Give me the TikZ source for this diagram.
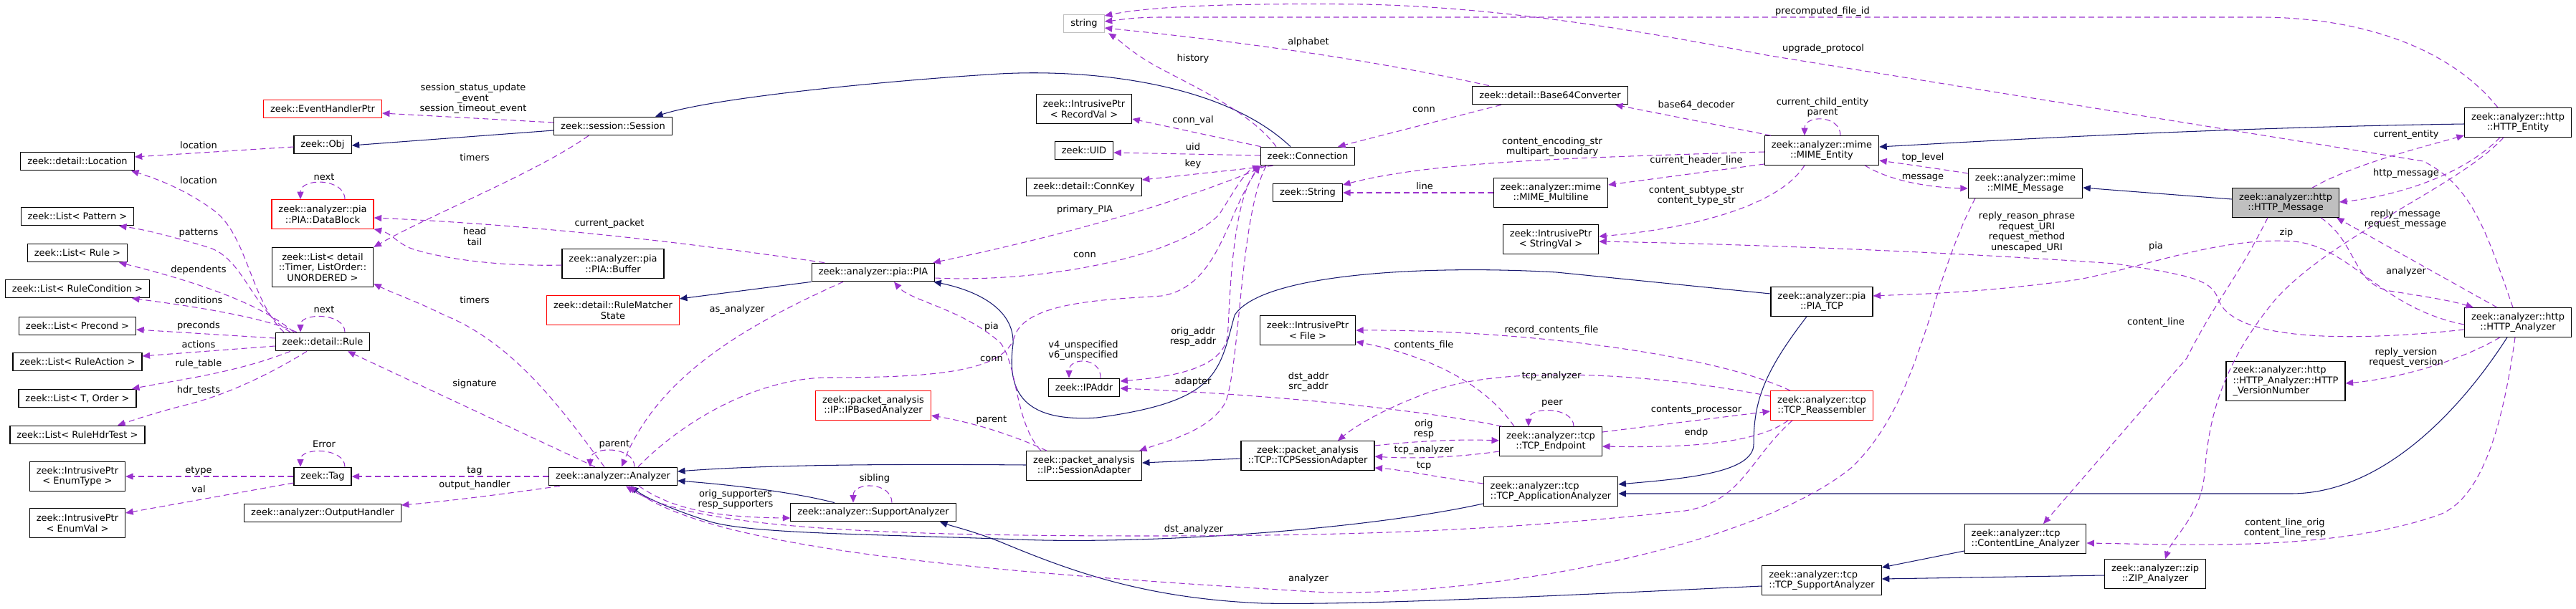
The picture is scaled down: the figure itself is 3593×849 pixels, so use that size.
\documentclass[tikz,border=0pt]{standalone}
\usepackage{fontspec}
\setmainfont{DejaVu Sans}
\usetikzlibrary{arrows.meta}
\definecolor{dorchid}{HTML}{9A32CD}
\definecolor{mblue}{HTML}{191970}
\definecolor{boxgray}{HTML}{BFBFBF}
\newcommand{\gfont}{\fontsize{13pt}{14.5pt}\selectfont}
\begin{document}
\begin{tikzpicture}[x=1pt, y=-1pt, every node/.style={font=\gfont},
  cls/.style={draw=black, line width=1.2pt, fill=white, align=center, inner xsep=9.5pt, inner ysep=2pt, minimum height=25.5pt},
  two/.style={minimum height=40.5pt},
  three/.style={minimum height=55pt},
  trunc/.style={draw=red},
  lbl/.style={align=center, inner sep=0pt},
  uses/.style={draw=dorchid, line width=1.05pt, dash pattern=on 8pt off 5pt, -{Triangle[length=10.5pt,width=9pt]}},
  isa/.style={draw=mblue, line width=1.05pt, -{Triangle[length=10.5pt,width=9pt]}}]
\useasboundingbox (0,0) rectangle (3593,849);
% column 1
\node[cls] (loc) at (108,225) {zeek::detail::Location};
\node[cls] (lpat) at (108,302) {zeek::List< Pattern >};
\node[cls] (lrule) at (108,353) {zeek::List< Rule >};
\node[cls] (lcond) at (108,403) {zeek::List< RuleCondition >};
\node[cls] (lprec) at (108,455) {zeek::List< Precond >};
\node[cls] (lact) at (108,505) {zeek::List< RuleAction >};
\node[cls] (lto) at (108,556) {zeek::List< T, Order >};
\node[cls] (lhdr) at (108,607) {zeek::List< RuleHdrTest >};
\node[cls, two] (etype) at (108,665) {zeek::IntrusivePtr\\< EnumType >};
\node[cls, two] (eval) at (108,730) {zeek::IntrusivePtr\\< EnumVal >};
% column 2
\node[cls, trunc] (ehp) at (450,152) {zeek::EventHandlerPtr};
\node[cls] (obj) at (450,202) {zeek::Obj};
\node[cls, two, trunc] (dblk) at (450,299) {zeek::analyzer::pia\\::PIA::DataBlock};
\node[cls, three] (ltimer) at (450,373) {zeek::List< detail\\::Timer, ListOrder::\\UNORDERED >};
\node[cls] (rule) at (450,477) {zeek::detail::Rule};
\node[cls] (tag) at (450,665) {zeek::Tag};
\node[cls] (outh) at (450,716) {zeek::analyzer::OutputHandler};
% column 3
\node[cls] (sess) at (855,176) {zeek::session::Session};
\node[cls, two] (pbuf) at (855,368) {zeek::analyzer::pia\\::PIA::Buffer};
\node[cls, two, trunc] (rms) at (855,433) {zeek::detail::RuleMatcher\\State};
\node[cls] (ana) at (855,665) {zeek::analyzer::Analyzer};
% column 4
\node[cls] (pia) at (1218,380) {zeek::analyzer::pia::PIA};
\node[cls, two, trunc] (ipba) at (1218,566) {zeek::packet\_analysis\\::IP::IPBasedAnalyzer};
\node[cls] (supa) at (1218,715) {zeek::analyzer::SupportAnalyzer};
% column 5
\node[cls, draw=boxgray] (str) at (1512,33) {string};
\node[cls, two] (recv) at (1512,152) {zeek::IntrusivePtr\\< RecordVal >};
\node[cls] (uid) at (1512,210) {zeek::UID};
\node[cls] (ckey) at (1512,261) {zeek::detail::ConnKey};
\node[cls] (ipa) at (1512,541) {zeek::IPAddr};
\node[cls, two] (sada) at (1512,650) {zeek::packet\_analysis\\::IP::SessionAdapter};
% column 6
\node[cls] (conn) at (1824,218) {zeek::Connection};
\node[cls] (zstr) at (1824,269) {zeek::String};
\node[cls, two] (file) at (1824,461) {zeek::IntrusivePtr\\< File >};
\node[cls, two] (tcpsa) at (1824,636) {zeek::packet\_analysis\\::TCP::TCPSessionAdapter};
% column 7
\node[cls] (b64) at (2162,133) {zeek::detail::Base64Converter};
\node[cls, two] (mml) at (2163,269) {zeek::analyzer::mime\\::MIME\_Multiline};
\node[cls, two] (sval) at (2163,334) {zeek::IntrusivePtr\\< StringVal >};
\node[cls, two] (endp) at (2163,616) {zeek::analyzer::tcp\\::TCP\_Endpoint};
\node[cls, two, align=left] (tcpaa) at (2163,686) {zeek::analyzer::tcp\\::TCP\_ApplicationAnalyzer};
% column 8
\node[cls, two] (ment) at (2541,210) {zeek::analyzer::mime\\::MIME\_Entity};
\node[cls, two] (pitcp) at (2541,421) {zeek::analyzer::pia\\::PIA\_TCP};
\node[cls, two, trunc] (reas) at (2541,566) {zeek::analyzer::tcp\\::TCP\_Reassembler};
\node[cls, two, align=left] (tcpsup) at (2541,810) {zeek::analyzer::tcp\\::TCP\_SupportAnalyzer};
% column 9
\node[cls, two] (mmsg) at (2825,256) {zeek::analyzer::mime\\::MIME\_Message};
\node[cls, two, align=left] (cla) at (2825,752) {zeek::analyzer::tcp\\::ContentLine\_Analyzer};
\node[cls, two] (zip) at (3006,801) {zeek::analyzer::zip\\::ZIP\_Analyzer};
\node[cls, two, fill=boxgray] (hmsg) at (3188,283) {zeek::analyzer::http\\::HTTP\_Message};
\node[cls, three, align=left] (hver) at (3188,532) {zeek::analyzer::http\\::HTTP\_Analyzer::HTTP\\\_VersionNumber};
\node[cls, two] (hent) at (3512,171) {zeek::analyzer::http\\::HTTP\_Entity};
\node[cls, two] (hana) at (3512,450) {zeek::analyzer::http\\::HTTP\_Analyzer};

% inheritance
\draw[isa] ([yshift=-6pt]sess.west) -- ([yshift=-1pt]obj.east);
\draw[isa] ([xshift=-24pt]conn.north) .. controls (1700,110) and (1500,95) .. (1379,104) .. controls (1250,112) and (1000,135) .. ([xshift=59pt]sess.north);
\draw[isa] (pia.south west) -- ([yshift=16pt]rms.east);
\draw[isa] ([yshift=11pt]pitcp.west) -- (2171,380) .. controls (2000,370) and (1760,380) .. (1722,440) .. controls (1700,520) and (1700,560) .. (1530,583) .. controls (1420,590) and (1405,540) .. (1413,480) .. controls (1415,430) and (1360,405) .. ([xshift=-2pt]pia.south east);
\draw[isa] ([yshift=1pt]sada.west) .. controls (1200,647) and (1050,650) .. ([yshift=7pt]ana.east);
\draw[isa] ([xshift=-54pt]supa.north) .. controls (1100,685) and (1000,675) .. ([yshift=-6pt]ana.east);
\draw[isa] ([yshift=-4pt]tcpsa.west) -- ([yshift=4pt]sada.east);
\draw[isa] ([yshift=-17pt]tcpaa.west) .. controls (1900,740) and (1600,760) .. (1420,753) .. controls (1200,745) and (1050,745) .. (990,728) .. controls (940,712) and (900,695) .. ([xshift=25pt]ana.south);
\draw[isa] ([yshift=-8pt]tcpsup.west) .. controls (2200,830) and (1900,845) .. (1760,842) .. controls (1600,835) and (1500,800) .. (1397,757) .. controls (1360,742) and (1330,735) .. ([xshift=93pt]supa.south);
\draw[isa] ([xshift=-15pt]hana.south) .. controls (3440,560) and (3330,689) .. (3195,689) -- ([yshift=-3pt]tcpaa.east);
\draw[isa] ([xshift=-21pt]pitcp.south) .. controls (2460,520) and (2446,560) .. (2446,620) .. controls (2446,660) and (2350,668) .. ([yshift=10pt]tcpaa.east);
\draw[isa] ([yshift=-17pt]cla.west) -- ([yshift=18pt]tcpsup.east);
\draw[isa] ([yshift=-2pt]zip.west) -- ([yshift=2pt]tcpsup.east);
\draw[isa] ([yshift=5pt]hmsg.west) -- ([yshift=-6pt]mmsg.east);
\draw[isa] ([yshift=-2pt]hent.west) .. controls (3100,178) and (2800,195) .. ([yshift=5pt]ment.east);

% usage: rules and tags
\draw[uses] ([yshift=5pt]sess.west) -- ([yshift=-6pt]ehp.east);
\draw[uses] ([yshift=-3pt]obj.west) -- ([yshift=6pt]loc.east);
\draw[uses] ([xshift=-54pt]rule.north) .. controls (350,420) and (345,330) .. (300,295) .. controls (260,265) and (220,250) .. ([xshift=75pt]loc.south);
\draw[uses] ([xshift=31pt]dblk.north) .. controls (481,248) and (419,248) .. ([xshift=-31pt]dblk.north);
\draw[uses] ([xshift=-68pt]pia.north) .. controls (900,330) and (700,312) .. ([yshift=-5pt]dblk.east);
\draw[uses] ([yshift=-2pt]pbuf.west) .. controls (700,372) and (620,362) .. (574,347) .. controls (555,340) and (545,325) .. (dblk.south east);
\draw[uses] ([xshift=-34pt]sess.south) .. controls (750,240) and (600,300) .. (ltimer.north east);
\draw[uses] ([xshift=-12pt]ana.north) .. controls (790,580) and (720,480) .. (620,440) .. controls (580,420) and (550,410) .. ([yshift=-23pt]ltimer.east);
\draw[uses] ([xshift=31pt]rule.north) .. controls (481,436) and (419,436) .. ([xshift=-31pt]rule.north);
\draw[uses] ([xshift=-45pt]rule.north) .. controls (350,430) and (340,360) .. (290,345) .. controls (240,330) and (200,320) .. ([xshift=58pt]lpat.south);
\draw[uses] ([xshift=-40pt]rule.north) .. controls (370,430) and (300,400) .. ([xshift=58pt]lrule.south);
\draw[uses] ([xshift=-36pt]rule.north) .. controls (360,440) and (250,425) .. ([xshift=76pt]lcond.south);
\draw[uses] ([yshift=5pt]rule.west) -- ([yshift=-5pt]lprec.east);
\draw[uses] ([yshift=-6pt]rule.west) -- ([yshift=8pt]lact.east);
\draw[uses] ([xshift=-45pt]rule.south) .. controls (330,520) and (250,530) .. ([xshift=76pt]lto.north);
\draw[uses] ([xshift=-22pt]rule.south) .. controls (380,520) and (320,550) .. (260,565) .. controls (220,575) and (190,585) .. ([xshift=56pt]lhdr.north);
\draw[uses] ([xshift=-25pt]ana.north) -- ([xshift=35pt]rule.south);
\draw[uses] ([xshift=31pt]tag.north) .. controls (481,624) and (419,624) .. ([xshift=-31pt]tag.north);
\draw[uses] (tag.west) -- (etype.east);
\draw[uses] ([yshift=-9pt]tag.west) -- ([yshift=14pt]eval.east);
\draw[uses] (ana.west) -- (tag.east);
\draw[uses] ([xshift=-74pt]ana.south) .. controls (700,690) and (620,700) .. ([yshift=11pt]outh.east);
\draw[uses] ([xshift=30pt]ana.north) .. controls (885,622) and (823,622) .. ([xshift=-32pt]ana.north);

% usage: pia, connection, session adapters
\draw[uses] ([xshift=-42pt]pia.south) .. controls (1050,450) and (920,520) .. ([xshift=12pt]ana.north);
\draw[uses] ([xshift=35pt]ana.north) .. controls (950,590) and (1050,530) .. (1150,527) .. controls (1300,527) and (1400,520) .. (1415,470) .. controls (1430,420) and (1550,418) .. (1620,413) .. controls (1700,400) and (1710,300) .. (conn.south west);
\draw[uses] ([yshift=-8pt]pia.east) .. controls (1450,395) and (1640,360) .. (1700,300) .. controls (1720,270) and (1735,240) .. (conn.south west);
\draw[uses] ([xshift=-58pt]conn.south) .. controls (1700,260) and (1550,315) .. ([xshift=-3pt]pia.north east);
\draw[uses] ([xshift=-44pt]conn.north) .. controls (1740,150) and (1640,110) .. (1600,85) .. controls (1575,70) and (1560,55) .. ([xshift=34pt]str.south);
\draw[uses] ([xshift=1pt]conn.north west) -- ([yshift=-14pt]recv.east);
\draw[uses] ([yshift=1pt]conn.west) -- ([yshift=-3pt]uid.east);
\draw[uses] ([xshift=18pt]conn.south west) -- ([yshift=10pt]ckey.east);
\draw[uses] ([xshift=-64pt]conn.south) .. controls (1715,260) and (1715,450) .. (1712,470) .. controls (1705,510) and (1650,525) .. ([yshift=9pt]ipa.east);
\draw[uses] ([xshift=-58pt]conn.south) .. controls (1730,300) and (1730,500) .. (1710,560) .. controls (1690,600) and (1630,615) .. ([xshift=77pt]sada.north);
\draw[uses] ([xshift=4pt]endp.north west) .. controls (2000,575) and (1800,552) .. ([yshift=-1pt]ipa.east);
\draw[uses] ([xshift=23pt]ipa.north) .. controls (1536,498) and (1491,498) .. ([xshift=-21pt]ipa.north);
\draw[uses] ([xshift=-60pt]sada.north) .. controls (1415,590) and (1420,510) .. (1395,478) .. controls (1340,430) and (1270,420) .. ([xshift=29pt]pia.south);
\draw[uses] ([xshift=-52pt]sada.north) .. controls (1420,610) and (1360,590) .. ([yshift=-14pt]ipba.east);
\draw[uses] ([xshift=26pt]supa.north) .. controls (1244,672) and (1190,672) .. ([xshift=-28pt]supa.north);
\draw[uses] ([xshift=36pt]ana.south) .. controls (930,705) and (980,722) .. ([yshift=-8pt]supa.west);
\draw[uses] ([xshift=-41pt]reas.south) .. controls (2440,640) and (2430,700) .. (2350,713) .. controls (2100,740) and (1900,748) .. (1600,748) .. controls (1200,748) and (960,735) .. ([xshift=18pt]ana.south);
\draw[uses] ([xshift=-70pt]mmsg.south) .. controls (2690,400) and (2680,560) .. (2582,653) .. controls (2450,760) and (2100,830) .. (1850,827) .. controls (1400,800) and (1000,770) .. ([xshift=22pt]ana.south);

% usage: tcp
\draw[uses] ([xshift=-44pt]reas.north) .. controls (2380,490) and (2100,460) .. (file.east);
\draw[uses] ([xshift=-51pt]endp.north) .. controls (2060,520) and (1960,490) .. ([yshift=-16pt]file.east);
\draw[uses] ([yshift=13pt]reas.west) .. controls (2300,520) and (2100,510) .. (2000,545) .. controls (1930,570) and (1890,595) .. ([xshift=42pt]tcpsa.north);
\draw[uses] ([xshift=32pt]endp.north) .. controls (2195,567) and (2132,567) .. ([xshift=-31pt]endp.north);
\draw[uses] ([yshift=13pt]endp.east) -- ([yshift=-8pt]reas.west);
\draw[uses] ([xshift=-47pt]reas.south) .. controls (2450,620) and (2350,625) .. ([yshift=-7pt]endp.east);
\draw[uses] ([yshift=14pt]tcpsa.east) .. controls (1980,615) and (2040,613) .. ([yshift=1pt]endp.west);
\draw[uses] ([yshift=-14pt]endp.west) .. controls (2020,640) and (1960,640) .. ([yshift=-1pt]tcpsa.east);
\draw[uses] ([yshift=11pt]tcpaa.west) .. controls (2000,665) and (1950,655) .. ([yshift=-17pt]tcpsa.east);

% usage: strings and mime
\draw[uses] ([xshift=-85pt]b64.north) .. controls (1900,80) and (1700,55) .. ([yshift=-6pt]str.east);
\draw[uses] ([xshift=-28pt]hent.north) .. controls (3420,70) and (3300,24) .. (3150,24) -- (1620,24) .. controls (1580,24) and (1560,28) .. ([yshift=3pt]str.east);
\draw[uses] ([xshift=-7pt]hana.north) .. controls (3470,330) and (3450,260) .. (3380,225) -- (2464,77) .. controls (2300,45) and (2100,10) .. (1900,6) .. controls (1700,4) and (1600,10) .. ([yshift=11pt]str.east);
\draw[uses] ([xshift=-68pt]b64.south) -- ([xshift=42pt]conn.north);
\draw[uses] ([xshift=-71pt]ment.north) -- ([xshift=91pt]b64.south);
\draw[uses] ([xshift=26pt]ment.north) .. controls (2567,160) and (2517,160) .. ([xshift=-24pt]ment.north);
\draw[uses] ([yshift=-2pt]ment.west) .. controls (2200,220) and (2000,225) .. ([yshift=11pt]zstr.east);
\draw[uses] (mml.west) -- (zstr.east);
\draw[uses] ([yshift=-19pt]ment.west) -- ([yshift=11pt]mml.east);
\draw[uses] ([xshift=-24pt]ment.south) .. controls (2480,290) and (2350,320) .. ([yshift=4pt]sval.east);
\draw[uses] ([yshift=14pt]mmsg.west) .. controls (2700,235) and (2650,228) .. ([yshift=-14pt]ment.east);
\draw[uses] ([xshift=60pt]ment.south) .. controls (2640,255) and (2700,262) .. ([yshift=-7pt]mmsg.west);

% usage: http
\draw[uses] ([yshift=-10pt]hana.west) .. controls (3300,475) and (3120,480) .. (3095,420) .. controls (3085,390) and (3060,385) .. (2950,368) .. controls (2700,350) and (2400,340) .. ([yshift=-3pt]sval.east);
\draw[uses] ([yshift=-3pt]hana.west) .. controls (3320,430) and (3280,345) .. (3200,337) .. controls (3100,330) and (3000,370) .. (2900,390) .. controls (2750,410) and (2680,410) .. ([yshift=8pt]pitcp.east);
\draw[uses] ([xshift=-25pt]hmsg.south) .. controls (3120,390) and (3090,420) .. (3050,500) -- ([xshift=25pt]cla.north);
\draw[uses] ([xshift=-20pt]hent.south) .. controls (3430,260) and (3250,330) .. (3172,420) .. controls (3090,520) and (3080,600) .. (3075,660) .. controls (3070,720) and (3030,750) .. ([xshift=14pt]zip.north);
\draw[uses] ([xshift=37pt]hmsg.north) .. controls (3280,230) and (3380,205) .. ([yshift=-18pt]hent.west);
\draw[uses] ([xshift=-25pt]hent.south) .. controls (3430,250) and (3330,275) .. ([yshift=1pt]hmsg.east);
\draw[uses] ([xshift=-29pt]hana.north) -- ([xshift=71pt]hmsg.south);
\draw[uses] ([xshift=49pt]hmsg.south) .. controls (3290,340) and (3280,400) .. (3339,407) .. controls (3390,415) and (3420,420) .. ([xshift=-62pt]hana.north);
\draw[uses] ([xshift=-4pt]hana.south) .. controls (3490,600) and (3460,700) .. (3398,720) .. controls (3250,770) and (3050,760) .. ([yshift=-6pt]cla.east);
\draw[uses] ([xshift=-25pt]hana.south) .. controls (3420,510) and (3330,530) .. ([yshift=-3pt]hver.east);

% edge labels
\node[lbl] (l-sess) at (660,138) {session\_status\_update\\\_event\\session\_timeout\_event};
\node[lbl] (l-loc1) at (277,203) {location};
\node[lbl] (l-loc2) at (277,252) {location};
\node[lbl] (l-next1) at (452,247) {next};
\node[lbl] (l-cpkt) at (850,312) {current\_packet};
\node[lbl] (l-head) at (662,330) {head\\tail};
\node[lbl] (l-tim1) at (662,220) {timers};
\node[lbl] (l-tim2) at (662,419) {timers};
\node[lbl] (l-next2) at (452,432) {next};
\node[lbl] (l-pat) at (277,325) {patterns};
\node[lbl] (l-dep) at (277,377) {dependents};
\node[lbl] (l-cond) at (277,419) {conditions};
\node[lbl] (l-prec) at (277,455) {preconds};
\node[lbl] (l-act) at (277,481) {actions};
\node[lbl] (l-rtab) at (277,508) {rule\_table};
\node[lbl] (l-hdr) at (277,545) {hdr\_tests};
\node[lbl] (l-sig) at (662,536) {signature};
\node[lbl] (l-err) at (452,620) {Error};
\node[lbl] (l-etype) at (277,657) {etype};
\node[lbl] (l-val) at (277,683) {val};
\node[lbl] (l-tag) at (662,657) {tag};
\node[lbl] (l-outh) at (662,677) {output\_handler};
\node[lbl] (l-par1) at (857,620) {parent};
\node[lbl] (l-asan) at (1028,432) {as\_analyzer};
\node[lbl] (l-conn1) at (1383,501) {conn};
\node[lbl] (l-conn2) at (1513,356) {conn};
\node[lbl] (l-ppia) at (1513,293) {primary\_PIA};
\node[lbl] (l-hist) at (1664,82) {history};
\node[lbl] (l-cval) at (1664,168) {conn\_val};
\node[lbl] (l-uid) at (1664,205) {uid};
\node[lbl] (l-key) at (1664,229) {key};
\node[lbl] (l-oaddr) at (1664,470) {orig\_addr\\resp\_addr};
\node[lbl] (l-adap) at (1664,533) {adapter};
\node[lbl] (l-daddr) at (1825,533) {dst\_addr\\src\_addr};
\node[lbl] (l-v4) at (1511,489) {v4\_unspecified\\v6\_unspecified};
\node[lbl] (l-pia1) at (1383,456) {pia};
\node[lbl] (l-par2) at (1383,586) {parent};
\node[lbl] (l-sib) at (1220,668) {sibling};
\node[lbl] (l-supp) at (1026,697) {orig\_supporters\\resp\_supporters};
\node[lbl] (l-dsta) at (1665,739) {dst\_analyzer};
\node[lbl] (l-ana1) at (1825,808) {analyzer};
\node[lbl] (l-rcf) at (2164,461) {record\_contents\_file};
\node[lbl] (l-cf) at (1986,482) {contents\_file};
\node[lbl] (l-tcpa1) at (2164,525) {tcp\_analyzer};
\node[lbl] (l-peer) at (2165,563) {peer};
\node[lbl] (l-cproc) at (2366,572) {contents\_processor};
\node[lbl] (l-endp) at (2366,604) {endp};
\node[lbl] (l-orig) at (1986,599) {orig\\resp};
\node[lbl] (l-tcpa2) at (1986,628) {tcp\_analyzer};
\node[lbl] (l-tcp) at (1986,650) {tcp};
\node[lbl] (l-alph) at (1825,59) {alphabet};
\node[lbl] (l-pfid) at (2542,16) {precomputed\_file\_id};
\node[lbl] (l-upg) at (2543,68) {upgrade\_protocol};
\node[lbl] (l-conn3) at (1986,153) {conn};
\node[lbl] (l-b64) at (2366,147) {base64\_decoder};
\node[lbl] (l-cce) at (2542,150) {current\_child\_entity\\parent};
\node[lbl] (l-cenc) at (2165,205) {content\_encoding\_str\\multipart\_boundary};
\node[lbl] (l-line) at (1987,260) {line};
\node[lbl] (l-chl) at (2366,224) {current\_header\_line};
\node[lbl] (l-cst) at (2366,273) {content\_subtype\_str\\content\_type\_str};
\node[lbl] (l-rrp) at (2827,324) {reply\_reason\_phrase\\request\_URI\\request\_method\\unescaped\_URI};
\node[lbl] (l-pia2) at (3007,344) {pia};
\node[lbl] (l-cline) at (3007,450) {content\_line};
\node[lbl] (l-zip) at (3189,325) {zip};
\node[lbl] (l-cent) at (3356,188) {current\_entity};
\node[lbl] (l-hmsg) at (3356,242) {http\_message};
\node[lbl] (l-rmsg) at (3355,306) {reply\_message\\request\_message};
\node[lbl] (l-ana2) at (3356,379) {analyzer};
\node[lbl] (l-clo) at (3187,737) {content\_line\_orig\\content\_line\_resp};
\node[lbl] (l-top) at (2682,220) {top\_level};
\node[lbl] (l-msg) at (2682,248) {message};
\node[lbl] (l-ver) at (3356,499) {reply\_version\\request\_version};
\end{tikzpicture}
\end{document}
